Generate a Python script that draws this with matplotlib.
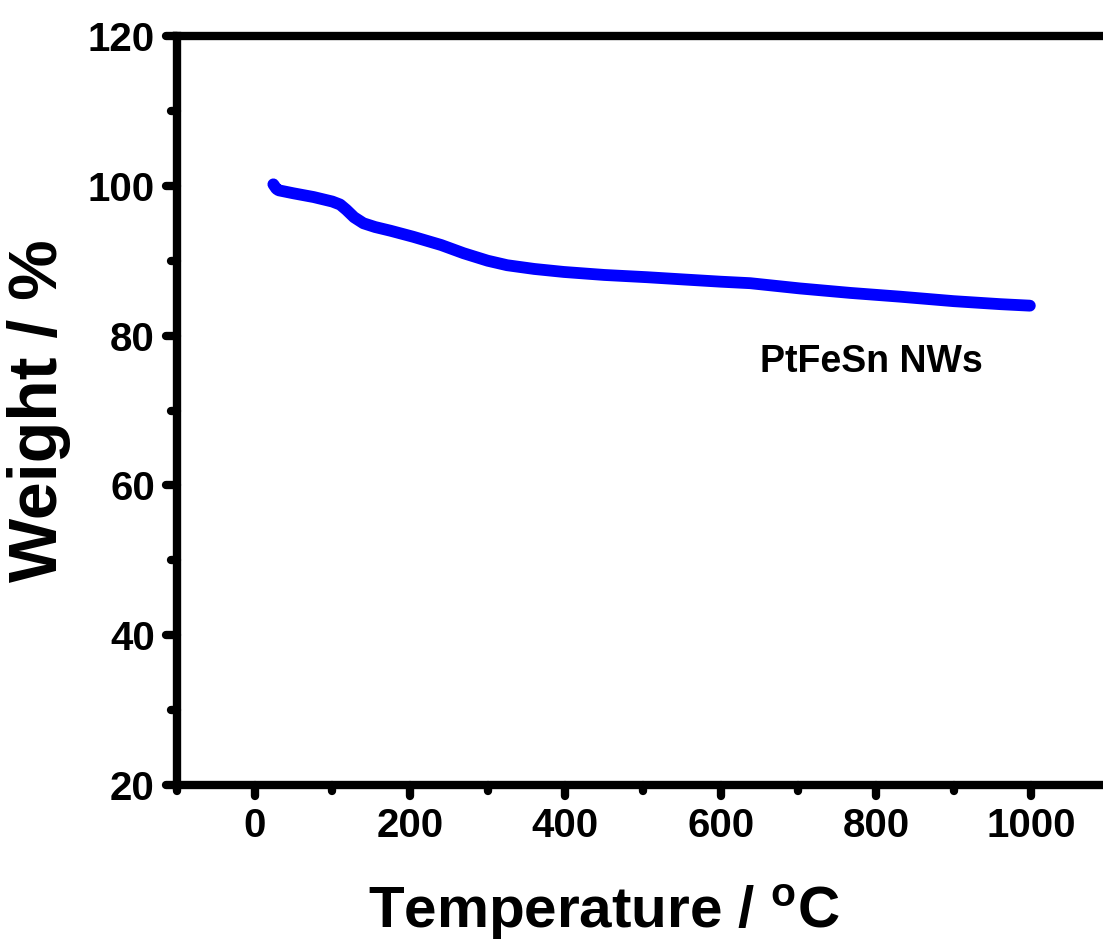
import numpy as np
import matplotlib
matplotlib.use("Agg")
import matplotlib.pyplot as plt
from matplotlib.ticker import MultipleLocator
from matplotlib.markers import MarkerStyle, TICKDOWN, TICKLEFT

plt.rcParams.update({
    "font.family": ["Liberation Sans", "DejaVu Sans"],
    "font.weight": "bold",
    "mathtext.fontset": "custom",
    "mathtext.rm": "Liberation Sans:bold",
    "mathtext.default": "rm",
})

# TGA curve
temp = [24, 28, 31, 50, 76, 100, 110, 118, 128, 140, 155, 175, 204, 240, 269,
        300, 325, 360, 398, 450, 505, 552, 600, 638, 702, 767, 831, 900, 960, 998]
weight = [100.2, 99.6, 99.4, 99.0, 98.5, 97.9, 97.5, 96.8, 95.8, 95.0, 94.5, 94.0,
          93.2, 92.1, 91.0, 90.0, 89.4, 88.9, 88.5, 88.1, 87.8, 87.5, 87.2, 87.0,
          86.3, 85.7, 85.2, 84.6, 84.2, 84.0]
label = "PtFeSn NWs"

fig = plt.figure(figsize=(11.03, 9.41), dpi=100)
ax = fig.add_axes([0.1605, 0.1658, 0.845, 0.7959])

ax.plot(temp, weight, color="#0000ff", lw=8.5, solid_capstyle="round", solid_joinstyle="round")
ax.text(651, 76.5, label, fontsize=27, fontweight="bold", ha="left", va="center")

ax.set_xlim(-100, 1100)
ax.set_ylim(20, 120)
ax.xaxis.set_major_locator(MultipleLocator(200))
ax.xaxis.set_minor_locator(MultipleLocator(100))
ax.yaxis.set_major_locator(MultipleLocator(20))
ax.yaxis.set_minor_locator(MultipleLocator(10))

for s in ax.spines.values():
    s.set_linewidth(6)
ax.spines["right"].set_visible(False)

ax.tick_params(which="both", direction="out", width=6, top=False, right=False,
               labelsize=29, pad=8)
ax.tick_params(which="major", length=8)
ax.tick_params(which="minor", length=4)

# round caps on tick marks
for axis, mk in ((ax.xaxis, TICKDOWN), (ax.yaxis, TICKLEFT)):
    for t in axis.get_major_ticks() + axis.get_minor_ticks():
        t.tick1line.set_marker(MarkerStyle(mk, capstyle="round"))

for lab in ax.get_xticklabels() + ax.get_yticklabels():
    lab.set_fontweight("bold")

ax.set_xlabel(r"Temperature / $^{o}$C", fontsize=42, fontweight="bold", va="baseline")
ax.xaxis.set_label_coords(0.458, -0.191)
ax.set_ylabel("Weight / %", fontsize=49, fontweight="bold", va="center")
ax.yaxis.set_label_coords(-0.148, 0.5)

fig.savefig("out.png", dpi=100)
